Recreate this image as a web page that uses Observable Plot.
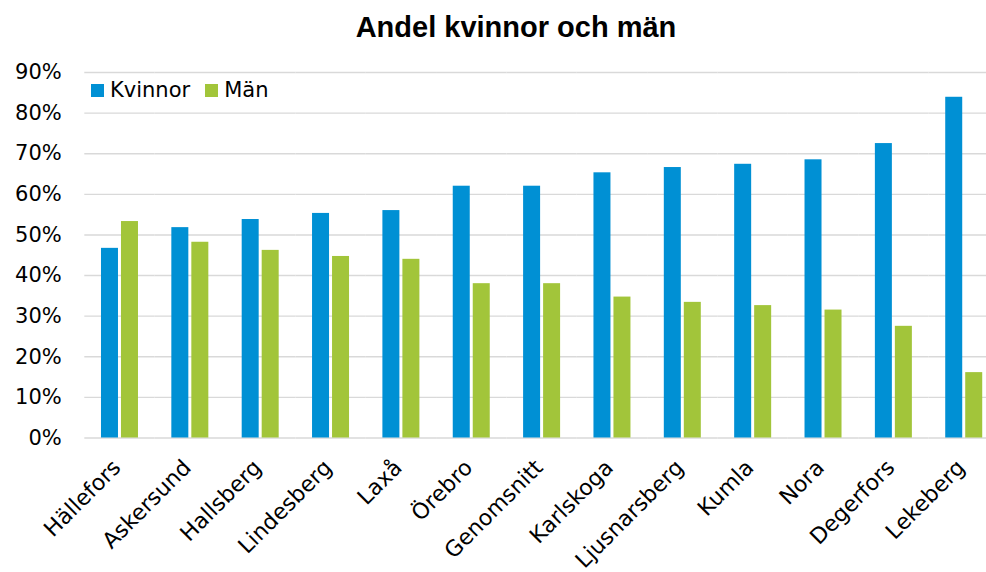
<!DOCTYPE html>
<html><head><meta charset="utf-8">
<script src="https://cdn.jsdelivr.net/npm/d3@7"></script>
<script src="https://cdn.jsdelivr.net/npm/@observablehq/plot@0.6"></script>
<style>
body{margin:0;background:#fff;overflow:hidden}
#wrap{position:relative;width:986px;height:572px;overflow:hidden}
#title{box-sizing:border-box;width:986px;height:50px;padding-top:4px;padding-left:46px;line-height:46px;text-align:center;font-family:"Liberation Sans",Arial,sans-serif;font-weight:bold;font-size:29px;color:#000}
#legend{position:absolute;left:91px;top:75px;font-family:"DejaVu Sans",sans-serif;font-size:21px;color:#000;display:flex;align-items:baseline;line-height:30px}
.sw{display:inline-block;width:13px;height:13px;margin-right:6px}
.item{display:flex;align-items:baseline;margin-right:15px}
#chart svg{display:block;max-width:none !important}
</style>
</head><body><div id="wrap"><div id="title">Andel kvinnor och män</div><div id="chart"></div><div id="legend"></div></div>
<script>
const categories = ["Hällefors","Askersund","Hallsberg","Lindesberg","Laxå","Örebro","Genomsnitt","Karlskoga","Ljusnarsberg","Kumla","Nora","Degerfors","Lekeberg"];
const kvinnor = [46.7,51.8,53.8,55.3,56.0,62.0,62.0,65.3,66.6,67.4,68.5,72.5,83.9];
const man = [53.3,48.2,46.2,44.7,44.0,38.0,38.0,34.7,33.4,32.6,31.5,27.5,16.1];
const seriesNames = ["Kvinnor","Män"];
const seriesColors = ["#0090d4","#a2c53a"];
const yTicks = [0,10,20,30,40,50,60,70,80,90];

const data = [];
categories.forEach((c,i)=>{
  data.push({cat:c, series:"Kvinnor", value:kvinnor[i]});
  data.push({cat:c, series:"Män", value:man[i]});
});

const chart = Plot.plot({
  width: 1000,
  height: 522,
  marginTop: 22,
  marginBottom: 134.5,
  marginLeft: 84.3,
  marginRight: 1.1,
  style: {fontFamily: "DejaVu Sans, sans-serif", fontSize: "21px", color: "#000", background: "#fff", maxWidth: "none"},
  fx: {domain: categories, paddingInner: 0, paddingOuter: 0, round: false, label: null},
  x: {domain: seriesNames, paddingInner: 0.15, paddingOuter: 0.834, round: false, axis: null},
  y: {domain: [0, 90], label: null},
  color: {domain: seriesNames, range: seriesColors},
  marks: [
    Plot.ruleY(yTicks, {y: d=>d, stroke: "#d9d9d9", strokeWidth: 1.4}),
    Plot.axisY({ticks: yTicks, tickFormat: d=>d+"%", tickSize: 0, tickPadding: 23, label: null}),
    Plot.barY(data, {fx: "cat", x: "series", y: "value", fill: "series"}),
    Plot.axisFx({anchor: "bottom", tickRotate: -45, tickSize: 0, tickPadding: 26, label: null, dx: -3, fontSize: 22})
  ]
});
document.getElementById("chart").appendChild(chart);

const legend = document.getElementById("legend");
seriesNames.forEach((s,i)=>{
  const it = document.createElement("span");
  it.className = "item";
  const sw = document.createElement("span");
  sw.className = "sw";
  sw.style.background = seriesColors[i];
  it.appendChild(sw);
  it.appendChild(document.createTextNode(s));
  legend.appendChild(it);
});
</script>
</body></html>
